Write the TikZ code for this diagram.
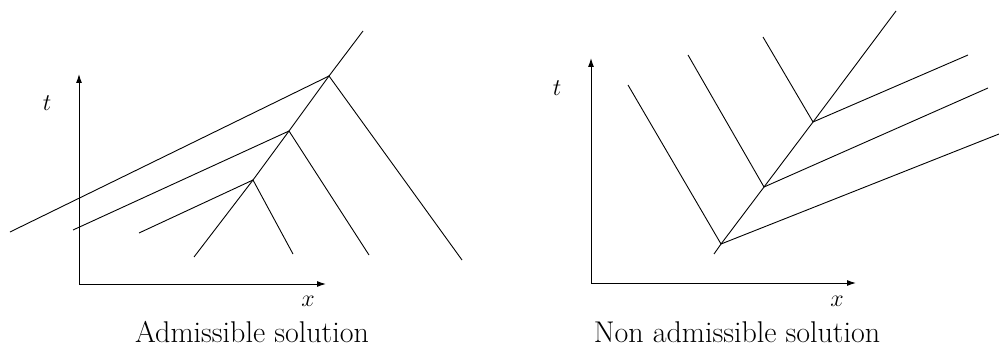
\documentclass[tikz,border=0pt]{standalone}
\usetikzlibrary{arrows.meta}
\tikzset{
  >={Latex[length=4.5pt,width=3pt]},
  axis/.style={->,line width=0.5pt},
  wave/.style={line width=0.45pt},
  lbl/.style={font=\large},
  caption/.style={font=\fontsize{15}{18}\selectfont},
}
\begin{document}
\begin{tikzpicture}[x=0.5pt,y=-0.5pt]
  \useasboundingbox (0,0) rectangle (999,347);
  % admissible
  \coordinate (ao) at (79,284);
  \coordinate (at) at (79,74);
  \coordinate (ax) at (326,284);
  \draw[axis] (ao) -- (at);
  \draw[axis] (ao) -- (ax);
  \node[lbl] (tl) at (47,103) {$t$};
  \node[lbl] (xl) at (308,301) {$x$};
  \node[caption] (cl) at (252,332) {Admissible solution};
  \coordinate (p1) at (329,76);
  \coordinate (p2) at (289,131);
  \coordinate (p3) at (253,180);
  \coordinate (a1) at (10,232);
  \coordinate (a2) at (73,230);
  \coordinate (a3) at (139,233);
  \coordinate (b0) at (363,31);
  \coordinate (b1) at (462,260);
  \coordinate (b2) at (369,255);
  \coordinate (b3) at (293,254);
  \coordinate (b4) at (194,257);
  \draw[wave] (a1) -- (p1) -- (b0);
  \draw[wave] (a2) -- (p2) -- (p1) -- (b1);
  \draw[wave] (p2) -- (b2);
  \draw[wave] (a3) -- (p3) -- (p2);
  \draw[wave] (b4) -- (p3) -- (b3);
  % non admissible
  \coordinate (no) at (591,283);
  \coordinate (nt) at (591,58);
  \coordinate (nx) at (856,283);
  \draw[axis] (no) -- (nt);
  \draw[axis] (no) -- (nx);
  \node[lbl] (tr) at (557,88) {$t$};
  \node[lbl] (xr) at (837,301) {$x$};
  \node[caption] (cr) at (737,332) {Non admissible solution};
  \coordinate (q1) at (721,244);
  \coordinate (q2) at (764,187);
  \coordinate (q3) at (813,122);
  \coordinate (c0) at (714,254);
  \coordinate (c1) at (628,85);
  \coordinate (c2) at (688,55);
  \coordinate (c3) at (763,37);
  \coordinate (c4) at (896,11);
  \coordinate (d1) at (999,134);
  \coordinate (d2) at (988,88);
  \coordinate (d3) at (968,55);
  \draw[wave] (c0) -- (q1) -- (q2) -- (q3) -- (c4);
  \draw[wave] (c1) -- (q1) -- (d1);
  \draw[wave] (c2) -- (q2) -- (d2);
  \draw[wave] (c3) -- (q3) -- (d3);
\end{tikzpicture}
\end{document}
